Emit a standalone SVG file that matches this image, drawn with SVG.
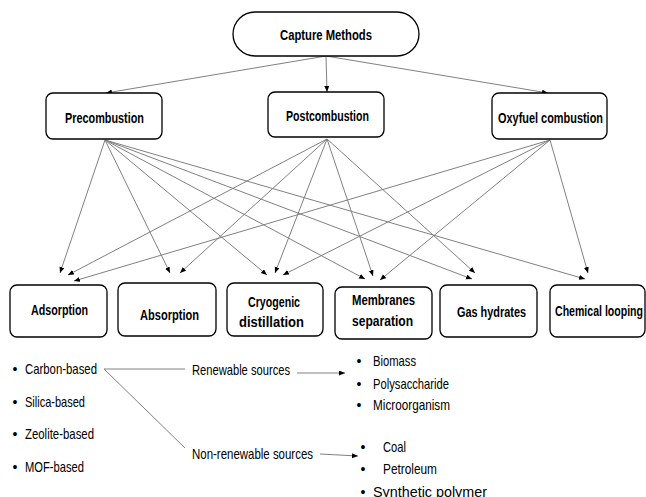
<svg xmlns="http://www.w3.org/2000/svg" width="646" height="497" viewBox="0 0 646 497">
<style>
.box{fill:#fff;stroke:#000;stroke-width:1.3}
.b{font-family:"Liberation Sans",Arial,sans-serif;font-weight:bold;font-size:15px;fill:#000;text-anchor:middle}
.r{font-family:"Liberation Sans",Arial,sans-serif;font-size:14.5px;fill:#000}
.bl{font-family:"Liberation Sans",Arial,sans-serif;font-size:14px;fill:#000;text-anchor:middle}
.c{stroke:#808080;stroke-width:1;fill:none}
.ca{stroke:#808080;stroke-width:1;fill:none;marker-end:url(#ah)}
</style>
<defs>
<marker id="ah" markerUnits="userSpaceOnUse" markerWidth="7" markerHeight="6" refX="6" refY="2.5" orient="auto">
<path d="M0,0 L6,2.5 L0,5 z" fill="#000"/>
</marker>
</defs>
<g id="connectors">
<line class="ca" x1="326" y1="56" x2="106" y2="93"/>
<line class="ca" x1="326" y1="56" x2="327" y2="92"/>
<line class="ca" x1="326" y1="56" x2="548" y2="93"/>
<line class="ca" x1="105" y1="140" x2="60" y2="273"/>
<line class="ca" x1="105" y1="140" x2="170" y2="273"/>
<line class="ca" x1="105" y1="140" x2="267" y2="275"/>
<line class="ca" x1="105" y1="140" x2="365" y2="279"/>
<line class="ca" x1="105" y1="140" x2="472" y2="279"/>
<line class="ca" x1="105" y1="140" x2="585" y2="279"/>
<line class="ca" x1="327" y1="139" x2="68" y2="275"/>
<line class="ca" x1="327" y1="139" x2="180" y2="273"/>
<line class="ca" x1="327" y1="139" x2="275" y2="273"/>
<line class="ca" x1="327" y1="139" x2="373" y2="276"/>
<line class="ca" x1="327" y1="139" x2="475" y2="273"/>
<line class="ca" x1="550" y1="140" x2="74" y2="281"/>
<line class="ca" x1="550" y1="140" x2="283" y2="275"/>
<line class="ca" x1="550" y1="140" x2="380" y2="280"/>
<line class="ca" x1="550" y1="140" x2="588" y2="273"/>
<line class="c" x1="104" y1="369" x2="185" y2="369"/>
<line class="c" x1="104" y1="369" x2="185" y2="448"/>
<line class="ca" x1="297" y1="373" x2="345" y2="373"/>
<line class="ca" x1="320" y1="454" x2="358" y2="456"/>
</g>
<g id="capture">
<rect class="box" x="233" y="12" width="186" height="44" rx="22"/>
<text class="b" x="326" y="40" textLength="92" lengthAdjust="spacingAndGlyphs">Capture Methods</text>
</g>
<g id="precombustion">
<rect class="box" x="46" y="93" width="116" height="46" rx="7"/>
<text class="b" x="104.5" y="122.5" textLength="79" lengthAdjust="spacingAndGlyphs">Precombustion</text>
</g>
<g id="postcombustion">
<rect class="box" x="268" y="92" width="116" height="45" rx="7"/>
<text class="b" x="327.5" y="120.5" textLength="83" lengthAdjust="spacingAndGlyphs">Postcombustion</text>
</g>
<g id="oxyfuel">
<rect class="box" x="492" y="93" width="115" height="46" rx="7"/>
<text class="b" x="550.5" y="122.5" textLength="105" lengthAdjust="spacingAndGlyphs">Oxyfuel combustion</text>
</g>
<g id="adsorption">
<rect class="box" x="10" y="285" width="97" height="52" rx="7"/>
<text class="b" x="59.5" y="315" textLength="57" lengthAdjust="spacingAndGlyphs">Adsorption</text>
</g>
<g id="absorption">
<rect class="box" x="118" y="283" width="98" height="53" rx="7"/>
<text class="b" x="169.5" y="320" textLength="59" lengthAdjust="spacingAndGlyphs">Absorption</text>
</g>
<g id="cryogenic">
<rect class="box" x="227" y="283" width="96" height="53" rx="7"/>
<text class="b" x="274" y="306.5" textLength="52" lengthAdjust="spacingAndGlyphs">Cryogenic</text>
<text class="b" x="271.5" y="327" textLength="65" lengthAdjust="spacingAndGlyphs">distillation</text>
</g>
<g id="membranes">
<rect class="box" x="335" y="287" width="97" height="52" rx="7"/>
<text class="b" x="383.5" y="305" textLength="63" lengthAdjust="spacingAndGlyphs">Membranes</text>
<text class="b" x="382.5" y="326" textLength="61" lengthAdjust="spacingAndGlyphs">separation</text>
</g>
<g id="gashydrates">
<rect class="box" x="440" y="285" width="97" height="52" rx="7"/>
<text class="b" x="491.5" y="316.5" textLength="69" lengthAdjust="spacingAndGlyphs">Gas hydrates</text>
</g>
<g id="chemlooping">
<rect class="box" x="550" y="285" width="95" height="52" rx="7"/>
<text class="b" x="599" y="316" textLength="88" lengthAdjust="spacingAndGlyphs">Chemical looping</text>
</g>
<g id="adsorbents">
<text class="bl" x="15" y="374">•</text>
<text class="r" x="25" y="374" textLength="72" lengthAdjust="spacingAndGlyphs">Carbon-based</text>
<text class="bl" x="15" y="406.5">•</text>
<text class="r" x="25" y="406.5" textLength="60" lengthAdjust="spacingAndGlyphs">Silica-based</text>
<text class="bl" x="15" y="439">•</text>
<text class="r" x="25" y="439" textLength="69" lengthAdjust="spacingAndGlyphs">Zeolite-based</text>
<text class="bl" x="15" y="472">•</text>
<text class="r" x="25" y="472" textLength="59" lengthAdjust="spacingAndGlyphs">MOF-based</text>
</g>
<g id="renewable">
<text class="r" x="192" y="374.5" textLength="98" lengthAdjust="spacingAndGlyphs">Renewable sources</text>
</g>
<g id="nonrenewable">
<text class="r" x="192" y="459" textLength="121" lengthAdjust="spacingAndGlyphs">Non-renewable sources</text>
</g>
<g id="renewable-list">
<text class="bl" x="359" y="366">•</text>
<text class="r" x="373" y="366" textLength="43" lengthAdjust="spacingAndGlyphs">Biomass</text>
<text class="bl" x="359" y="389">•</text>
<text class="r" x="373" y="389" textLength="76" lengthAdjust="spacingAndGlyphs">Polysaccharide</text>
<text class="bl" x="359" y="410">•</text>
<text class="r" x="373" y="410" textLength="77" lengthAdjust="spacingAndGlyphs">Microorganism</text>
</g>
<g id="nonrenewable-list">
<text class="bl" x="363" y="451.5">•</text>
<text class="r" x="383" y="451.5" textLength="23" lengthAdjust="spacingAndGlyphs">Coal</text>
<text class="bl" x="363" y="474">•</text>
<text class="r" x="383" y="474" textLength="54" lengthAdjust="spacingAndGlyphs">Petroleum</text>
<text class="bl" x="363" y="496.5">•</text>
<text class="r" x="373" y="496.5" textLength="114" lengthAdjust="spacingAndGlyphs">Synthetic polymer</text>
</g>
</svg>
